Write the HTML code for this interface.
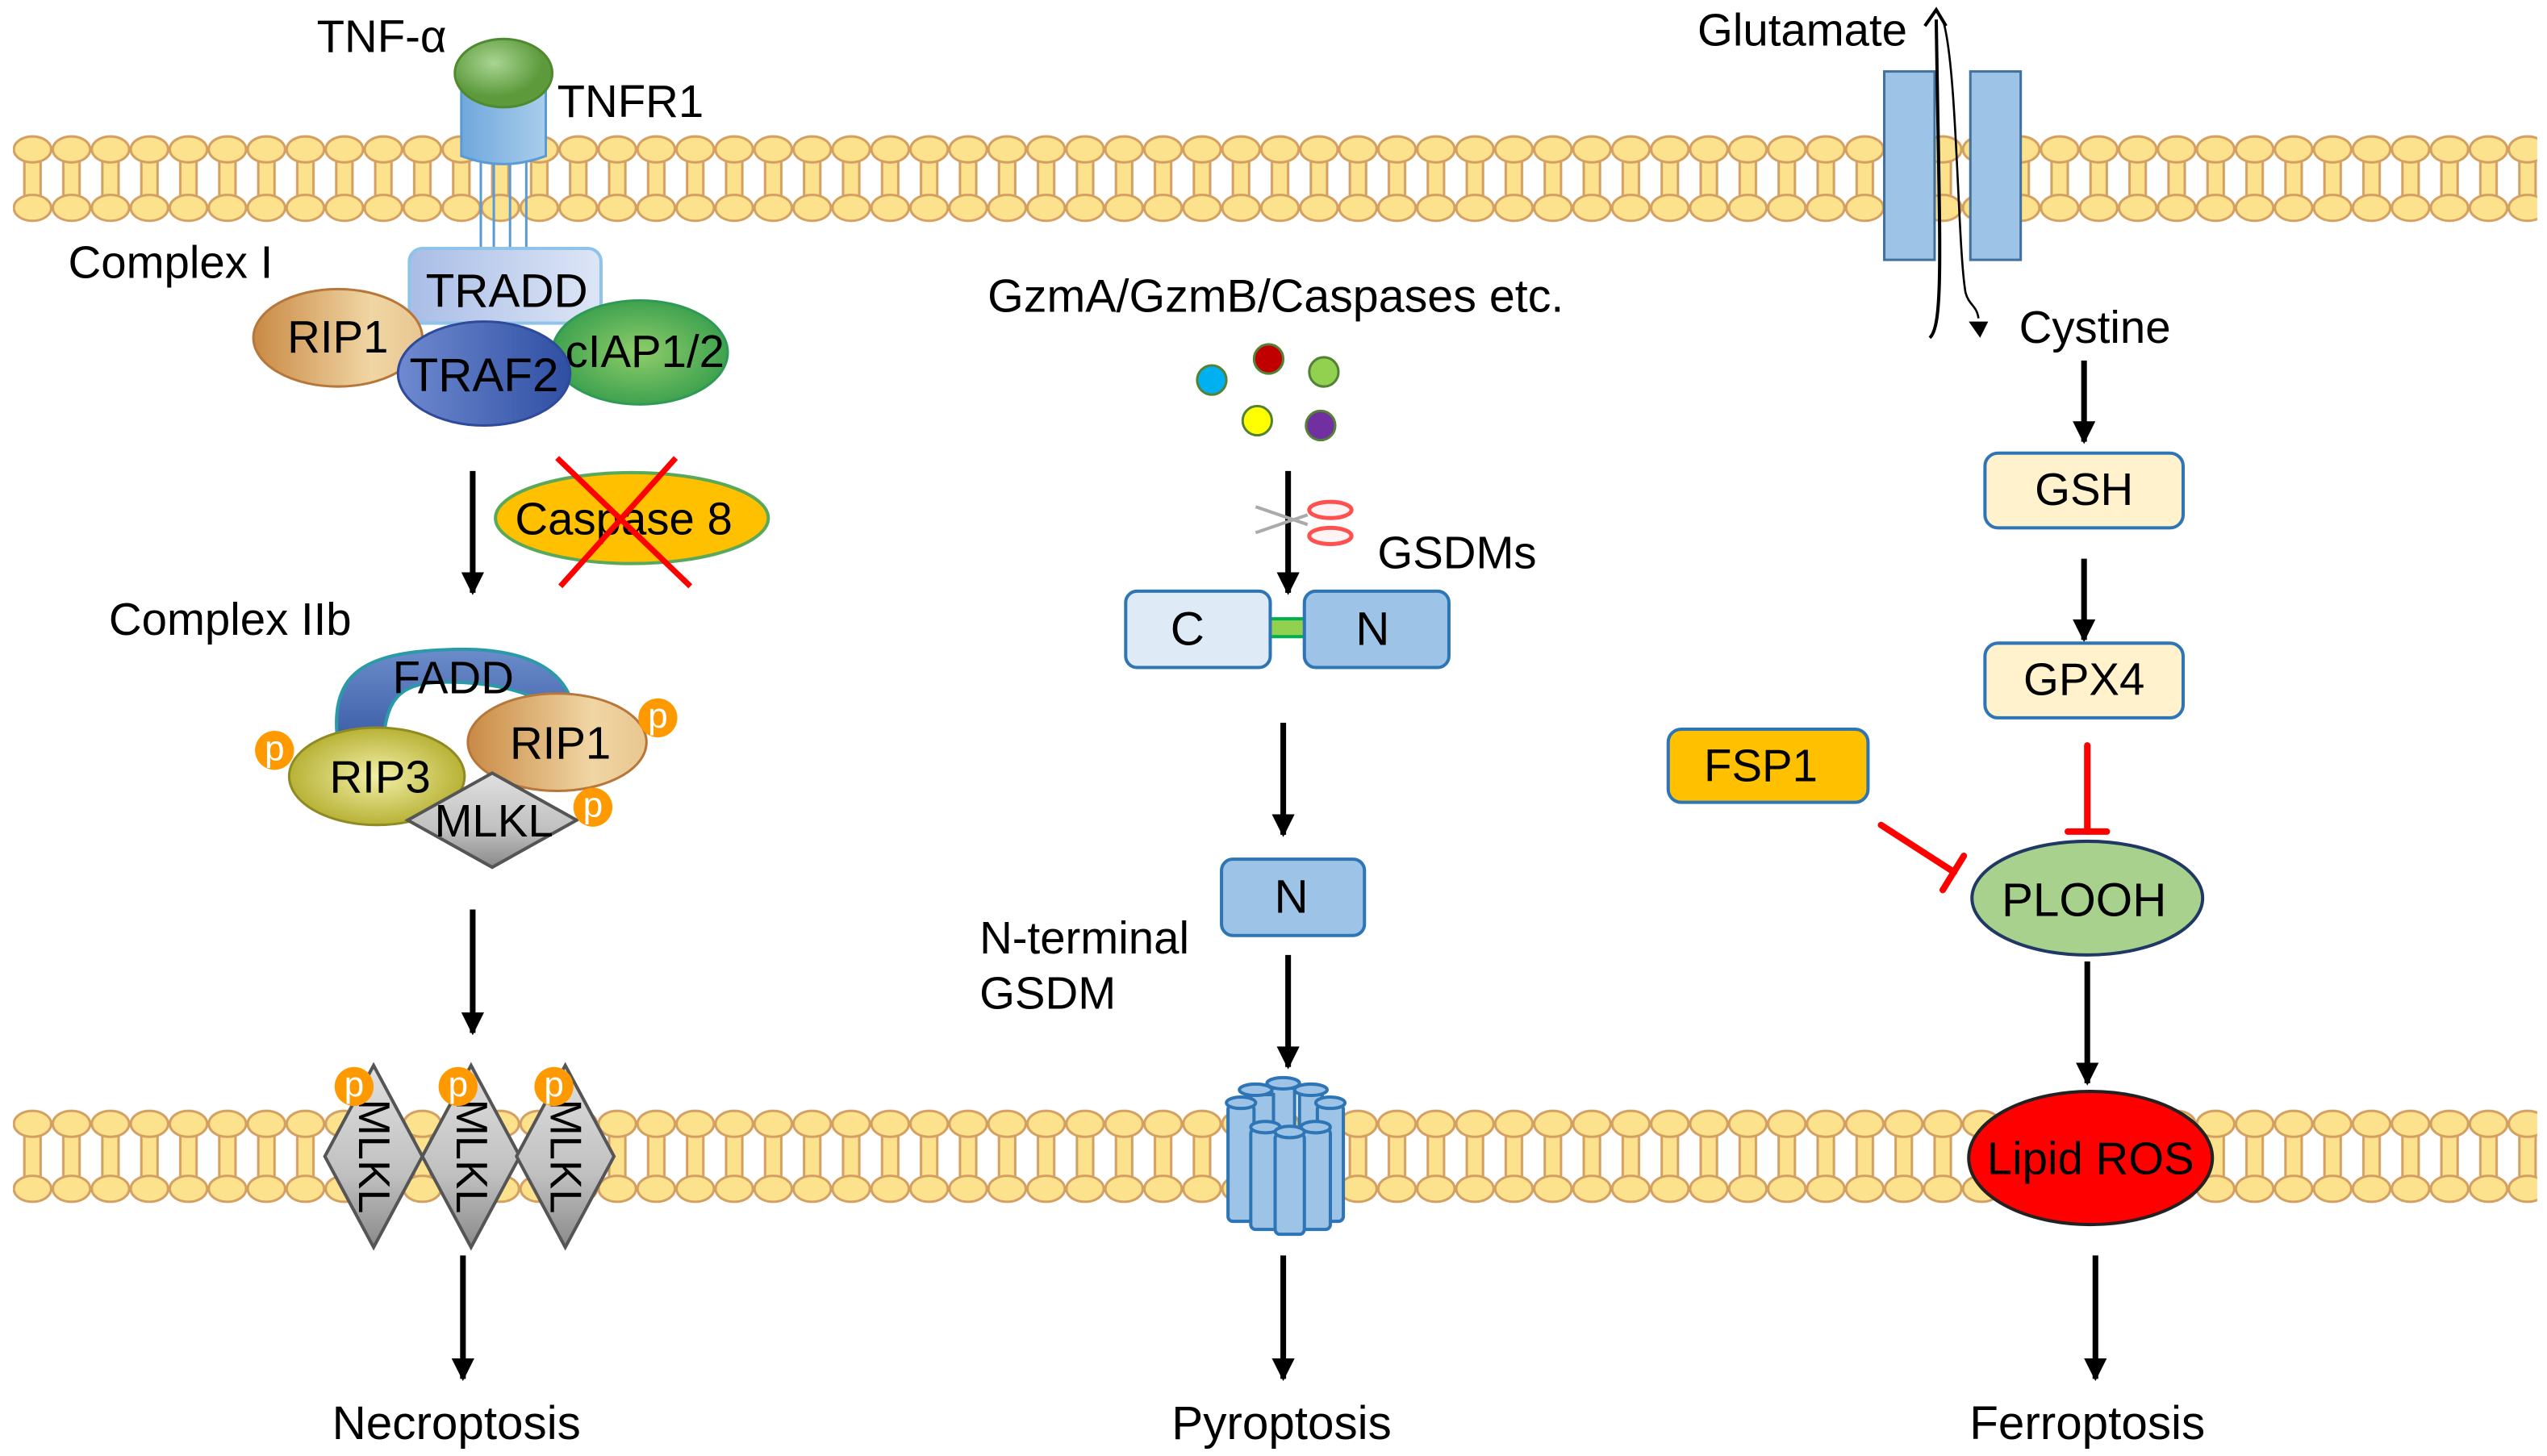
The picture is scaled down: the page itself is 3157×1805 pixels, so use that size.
<!DOCTYPE html>
<html><head><meta charset="utf-8"><style>
html,body{margin:0;padding:0;background:#fff;}
svg{display:block;}
text{font-family:"Liberation Sans",Arial,sans-serif;fill:#000;}
</style></head><body>
<svg width="3157" height="1805" viewBox="0 0 1568 896.5" xmlns="http://www.w3.org/2000/svg">
<defs>
<pattern id="memT" x="8" y="81" width="24" height="60" patternUnits="userSpaceOnUse">
<rect x="7" y="16" width="10" height="28" fill="#fde28e" stroke="#d4a062" stroke-width="1.5"/>
<ellipse cx="12" cy="11" rx="11.5" ry="8" fill="#fde28e" stroke="#d4a062" stroke-width="1.5"/>
<ellipse cx="12" cy="47" rx="11.5" ry="8" fill="#fde28e" stroke="#d4a062" stroke-width="1.5"/>
</pattern>
<pattern id="memB" x="8" y="681" width="24" height="64" patternUnits="userSpaceOnUse">
<rect x="7" y="16" width="10" height="32" fill="#fde28e" stroke="#d4a062" stroke-width="1.5"/>
<ellipse cx="12" cy="11" rx="11.5" ry="8" fill="#fde28e" stroke="#d4a062" stroke-width="1.5"/>
<ellipse cx="12" cy="51" rx="11.5" ry="8" fill="#fde28e" stroke="#d4a062" stroke-width="1.5"/>
</pattern>
<marker id="ah" viewBox="0 0 10 10" refX="9" refY="5" markerWidth="4.5" markerHeight="4" orient="auto" markerUnits="strokeWidth">
<path d="M0,0 L10,5 L0,10 z" fill="#000"/></marker>
<linearGradient id="gRip1" x1="0" x2="1"><stop offset="0" stop-color="#c98a45"/><stop offset="0.7" stop-color="#f0d6a4"/><stop offset="1" stop-color="#e8c690"/></linearGradient>
<linearGradient id="gTraf" x1="0" x2="1"><stop offset="0" stop-color="#6f8ad0"/><stop offset="1" stop-color="#2f4fa3"/></linearGradient>
<radialGradient id="gCiap"><stop offset="0" stop-color="#8fcd6a"/><stop offset="1" stop-color="#3fa24f"/></radialGradient>
<radialGradient id="gRip3"><stop offset="0" stop-color="#f2f0a8"/><stop offset="1" stop-color="#b8b236"/></radialGradient>
<linearGradient id="gMlkl" x1="0" y1="0" x2="0" y2="1"><stop offset="0" stop-color="#e0e0e0"/><stop offset="0.6" stop-color="#c0c0c0"/><stop offset="1" stop-color="#8a8a8a"/></linearGradient>
<linearGradient id="gTradd" x1="0" x2="1"><stop offset="0" stop-color="#a9bde6"/><stop offset="1" stop-color="#dde6f6"/></linearGradient>
<linearGradient id="gFadd" x1="0" y1="0" x2="0" y2="1"><stop offset="0" stop-color="#6c8cc9"/><stop offset="1" stop-color="#2f52a0"/></linearGradient>
<radialGradient id="gTnf" cx="0.4" cy="0.35"><stop offset="0" stop-color="#a9d592"/><stop offset="1" stop-color="#5c9a3c"/></radialGradient>
<linearGradient id="gRec" x1="0" x2="1"><stop offset="0" stop-color="#6fa8dc"/><stop offset="1" stop-color="#a9cdec"/></linearGradient>
</defs>

<rect x="8" y="81" width="1554" height="60" fill="url(#memT)"/>
<rect x="8" y="681" width="1554" height="64" fill="url(#memB)"/>

<!-- LEFT -->
<text x="195" y="32" font-size="28">TNF-α</text>
<g stroke="#5b9bd5" stroke-width="1.5">
<line x1="296" y1="100" x2="296" y2="153"/><line x1="304" y1="100" x2="304" y2="153"/>
<line x1="314" y1="100" x2="314" y2="153"/><line x1="324" y1="100" x2="324" y2="153"/>
</g>
<path d="M284,50 L284,96 Q310,106 336,96 L336,50 Z" fill="url(#gRec)" stroke="#5b9bd5" stroke-width="1.5"/>
<ellipse cx="310" cy="45" rx="30" ry="21" fill="url(#gTnf)" stroke="#4f8a2e" stroke-width="1.5"/>
<text x="343" y="72" font-size="28">TNFR1</text>
<text x="42" y="171" font-size="28">Complex I</text>
<rect x="252" y="153" width="118" height="46" rx="8" fill="url(#gTradd)" stroke="#8fc3ea" stroke-width="2"/>
<text x="312" y="189" font-size="29" text-anchor="middle">TRADD</text>
<ellipse cx="208" cy="208" rx="52" ry="30" fill="url(#gRip1)" stroke="#b8773a" stroke-width="1.5"/>
<text x="208" y="217" font-size="28" text-anchor="middle">RIP1</text>
<ellipse cx="394" cy="217" rx="54" ry="32" fill="url(#gCiap)" stroke="#2e9a55" stroke-width="1.5"/>
<text x="397" y="226" font-size="28" text-anchor="middle">cIAP1/2</text>
<ellipse cx="298" cy="230" rx="53" ry="32" fill="url(#gTraf)" stroke="#2f4a9a" stroke-width="1.5"/>
<text x="298" y="241" font-size="29" text-anchor="middle">TRAF2</text>

<line x1="291" y1="290" x2="291" y2="365" stroke="#000" stroke-width="3.5" marker-end="url(#ah)"/>
<ellipse cx="389" cy="319" rx="84" ry="28" fill="#ffc000" stroke="#5aa85a" stroke-width="2"/>
<text x="384" y="329" font-size="28" text-anchor="middle">Caspase 8</text>
<line x1="343" y1="282" x2="425" y2="361" stroke="#ff0000" stroke-width="3.5"/>
<line x1="345" y1="361" x2="416" y2="282" stroke="#ff0000" stroke-width="3.5"/>

<text x="67" y="391" font-size="28">Complex IIb</text>
<path d="M210,470 C200,420 215,402 275,400 C320,398 345,410 352,432 L345,440 C330,425 300,420 275,420 C245,420 235,430 236,470 Z" fill="url(#gFadd)" stroke="#2a9aa8" stroke-width="2"/>
<text x="279" y="427" font-size="28" text-anchor="middle">FADD</text>
<ellipse cx="343" cy="457" rx="55" ry="30" fill="url(#gRip1)" stroke="#b8773a" stroke-width="1.5"/>
<text x="345" y="467" font-size="28" text-anchor="middle">RIP1</text>
<ellipse cx="232" cy="478" rx="54" ry="30" fill="url(#gRip3)" stroke="#8f8a22" stroke-width="1.5"/>
<text x="234" y="488" font-size="28" text-anchor="middle">RIP3</text>
<polygon points="303,476 355,505 303,534 251,505" fill="url(#gMlkl)" stroke="#555" stroke-width="2"/>
<text x="304" y="515" font-size="28" text-anchor="middle">MLKL</text>
<g fill="#ff9900"><circle cx="169" cy="462" r="12"/><circle cx="405" cy="442" r="12"/><circle cx="365" cy="497" r="12"/></g>
<g font-size="22" text-anchor="middle"><text x="169" y="468" style="fill:#fff">p</text><text x="405" y="448" style="fill:#fff">p</text><text x="365" y="503" style="fill:#fff">p</text></g>

<line x1="291" y1="560" x2="291" y2="636" stroke="#000" stroke-width="3.5" marker-end="url(#ah)"/>

<polygon points="230,656 260,712 230,768 200,712" fill="url(#gMlkl)" stroke="#555" stroke-width="2"/>
<text font-size="27" text-anchor="middle" transform="translate(221,712) rotate(90)">MLKL</text>
<polygon points="290,656 320,712 290,768 260,712" fill="url(#gMlkl)" stroke="#555" stroke-width="2"/>
<text font-size="27" text-anchor="middle" transform="translate(281,712) rotate(90)">MLKL</text>
<polygon points="348,656 378,712 348,768 318,712" fill="url(#gMlkl)" stroke="#555" stroke-width="2"/>
<text font-size="27" text-anchor="middle" transform="translate(339,712) rotate(90)">MLKL</text>
<g fill="#ff9900"><circle cx="218" cy="669" r="12"/><circle cx="282" cy="669" r="12"/><circle cx="341" cy="669" r="12"/></g>
<g font-size="22" text-anchor="middle"><text x="218" y="675" style="fill:#fff">p</text><text x="282" y="675" style="fill:#fff">p</text><text x="341" y="675" style="fill:#fff">p</text></g>

<line x1="285" y1="773" x2="285" y2="849" stroke="#000" stroke-width="3.5" marker-end="url(#ah)"/>
<text x="281" y="886" font-size="29" text-anchor="middle">Necroptosis</text>

<!-- MIDDLE -->
<text x="608" y="192" font-size="28.5">GzmA/GzmB/Caspases etc.</text>
<g stroke="#548235" stroke-width="1.5">
<circle cx="746" cy="234" r="9" fill="#00b0f0"/><circle cx="781" cy="221" r="9" fill="#c00000"/>
<circle cx="815" cy="229" r="9" fill="#92d050"/><circle cx="774" cy="259" r="9" fill="#ffff00"/>
<circle cx="813" cy="262" r="9" fill="#7030a0"/></g>
<line x1="793" y1="290" x2="793" y2="365" stroke="#000" stroke-width="3.5" marker-end="url(#ah)"/>
<g fill="none">
<path d="M773,312 L805,323 M773,328 L805,317" stroke="#aaa" stroke-width="2"/>
<ellipse cx="819" cy="314" rx="13" ry="5" stroke="#ff5050" stroke-width="2.5" fill="#ffe0e0" fill-opacity="0.4"/>
<ellipse cx="819" cy="330" rx="13" ry="5" stroke="#ff5050" stroke-width="2.5" fill="#ffe0e0" fill-opacity="0.4"/>
</g>
<text x="848" y="350" font-size="28">GSDMs</text>
<rect x="781" y="381" width="23" height="11" fill="#92d050" stroke="#00b050" stroke-width="2"/>
<rect x="693" y="364" width="89" height="47" rx="7" fill="#deebf7" stroke="#2e75b6" stroke-width="2"/>
<text x="731" y="397" font-size="29" text-anchor="middle">C</text>
<rect x="803" y="364" width="89" height="47" rx="7" fill="#9dc3e6" stroke="#2e75b6" stroke-width="2"/>
<text x="845" y="397" font-size="29" text-anchor="middle">N</text>
<line x1="790" y1="445" x2="790" y2="514" stroke="#000" stroke-width="3.5" marker-end="url(#ah)"/>
<rect x="752" y="529" width="88" height="47" rx="7" fill="#9dc3e6" stroke="#2e75b6" stroke-width="2"/>
<text x="795" y="562" font-size="29" text-anchor="middle">N</text>
<text x="603" y="587" font-size="28">N-terminal</text>
<text x="603" y="621" font-size="28">GSDM</text>
<line x1="793" y1="588" x2="793" y2="657" stroke="#000" stroke-width="3.5" marker-end="url(#ah)"/>
<g fill="#9dc3e6" stroke="#2e75b6" stroke-width="2">
<rect x="783" y="670" width="14" height="60"/>
<rect x="800" y="674" width="14" height="60"/>
<rect x="770" y="674" width="14" height="60"/>
<rect x="756" y="680" width="16" height="72" rx="3"/>
<rect x="811" y="680" width="16" height="72" rx="3"/>
<rect x="770" y="695" width="18" height="62" rx="3"/>
<rect x="801" y="695" width="18" height="62" rx="3"/>
<rect x="785" y="698" width="18" height="62" rx="3"/>
<ellipse cx="790" cy="667" rx="10" ry="3.5"/>
<ellipse cx="807" cy="671" rx="10" ry="3.5"/>
<ellipse cx="773" cy="671" rx="10" ry="3.5"/>
<ellipse cx="764" cy="679" rx="9" ry="3.5"/>
<ellipse cx="819" cy="679" rx="9" ry="3.5"/>
<ellipse cx="779" cy="694" rx="9" ry="3.5"/>
<ellipse cx="810" cy="694" rx="9" ry="3.5"/>
<ellipse cx="794" cy="697" rx="9" ry="3.5"/>
</g>
<line x1="790" y1="773" x2="790" y2="849" stroke="#000" stroke-width="3.5" marker-end="url(#ah)"/>
<text x="789" y="886" font-size="29" text-anchor="middle">Pyroptosis</text>

<!-- RIGHT -->
<text x="1045" y="28" font-size="28">Glutamate</text>
<rect x="1160" y="44" width="31" height="116" fill="#9dc3e6" stroke="#41719c" stroke-width="1.5"/>
<rect x="1213" y="44" width="31" height="116" fill="#9dc3e6" stroke="#41719c" stroke-width="1.5"/>
<path d="M1188,208 C1197,200 1194,150 1192,12" fill="none" stroke="#000" stroke-width="2"/>
<path d="M1185,16 L1192,6 L1198,16" fill="none" stroke="#000" stroke-width="2"/>
<path d="M1196,12 C1205,40 1205,150 1210,180 C1212,188 1217,188 1218,196" fill="none" stroke="#000" stroke-width="1.3"/>
<path d="M1212,198 L1224,198 L1219,208 Z" fill="#000"/>
<text x="1243" y="211" font-size="28">Cystine</text>
<line x1="1283" y1="222" x2="1283" y2="272" stroke="#000" stroke-width="3.5" marker-end="url(#ah)"/>
<rect x="1222" y="279" width="122" height="46" rx="8" fill="#fff2cc" stroke="#2e75b6" stroke-width="2"/>
<text x="1283" y="311" font-size="28" text-anchor="middle">GSH</text>
<line x1="1283" y1="344" x2="1283" y2="394" stroke="#000" stroke-width="3.5" marker-end="url(#ah)"/>
<rect x="1222" y="396" width="122" height="46" rx="8" fill="#fff2cc" stroke="#2e75b6" stroke-width="2"/>
<text x="1283" y="428" font-size="28" text-anchor="middle">GPX4</text>
<rect x="1027" y="449" width="123" height="45" rx="8" fill="#ffc000" stroke="#2e75b6" stroke-width="2"/>
<text x="1084" y="481" font-size="28" text-anchor="middle">FSP1</text>
<g stroke="#ff0000" stroke-width="4" stroke-linecap="round">
<line x1="1285" y1="459" x2="1285" y2="512"/><line x1="1273" y1="512" x2="1297" y2="512"/>
<line x1="1158" y1="508" x2="1203" y2="537"/><line x1="1196" y1="548" x2="1209" y2="527"/>
</g>
<ellipse cx="1285" cy="553" rx="71" ry="35" fill="#a9d18e" stroke="#1f3864" stroke-width="2"/>
<text x="1283" y="564" font-size="29" text-anchor="middle">PLOOH</text>
<line x1="1285" y1="592" x2="1285" y2="667" stroke="#000" stroke-width="3.5" marker-end="url(#ah)"/>
<ellipse cx="1287" cy="713" rx="75" ry="41" fill="#ff0000" stroke="#222" stroke-width="2"/>
<text x="1287" y="723" font-size="28" text-anchor="middle">Lipid ROS</text>
<line x1="1290" y1="773" x2="1290" y2="849" stroke="#000" stroke-width="3.5" marker-end="url(#ah)"/>
<text x="1285" y="886" font-size="29" text-anchor="middle">Ferroptosis</text>
</svg>
</body></html>
